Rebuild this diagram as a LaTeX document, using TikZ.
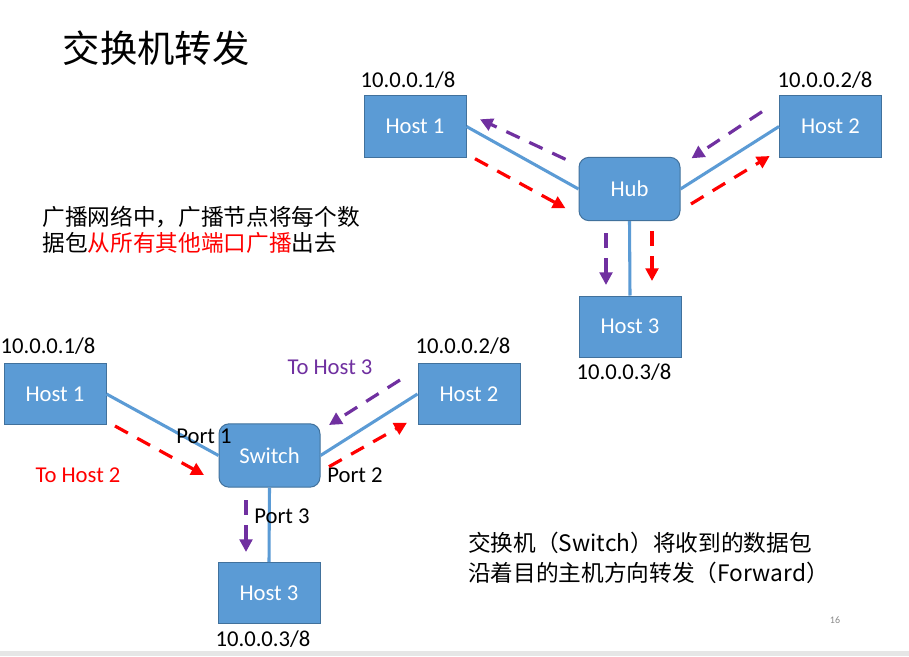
\documentclass[tikz,border=0pt]{standalone}
\usepackage{fontspec}
\setmainfont{Carlito}
\newfontfamily\cjk{Noto Sans CJK SC}
\usetikzlibrary{arrows.meta}
\definecolor{boxfill}{HTML}{5B9BD5}
\definecolor{boxedge}{HTML}{41719C}
\definecolor{linkc}{HTML}{5B9BD5}
\definecolor{pur}{HTML}{7030A0}
\definecolor{redc}{HTML}{FF0000}
\definecolor{bandc}{HTML}{E6E6E6}
\definecolor{pagenum}{HTML}{8C8C8C}
\begin{document}
\begin{tikzpicture}[x=0.75pt,y=-0.75pt,
  hostbox/.style={draw=boxedge, line width=0.75pt, fill=boxfill, minimum width=76.5pt, minimum height=45.75pt, inner sep=0pt, text=white, font=\fontsize{17}{20}\selectfont},
  hubbox/.style={hostbox, rounded corners=7.5pt, minimum width=75.75pt, minimum height=47.5pt},
  link/.style={draw=linkc, line width=2.3pt},
  flow/.style={line width=2.4pt, dash pattern=on 11pt off 8pt, -{Triangle[length=9.5pt,width=9.5pt]}},
  lbl/.style={font=\fontsize{17}{20}\selectfont, inner sep=0pt},
  cjktext/.style={font=\cjk\fontsize{17}{19.5}\selectfont, inner sep=0pt, align=left}]
\useasboundingbox (0,0) rectangle (909,656);
\fill[white] (0,0) rectangle (909,656);
\fill[bandc] (0,651) rectangle (909,656);

% title
\node[font=\cjk\fontsize{28}{32}\selectfont, inner sep=0pt] (title) at (156,48) {交换机转发};

% ---------- hub network ----------
\node[hostbox] (h1) at (415,126.5) {Host 1};
\node[hostbox] (h2) at (830.5,126.5) {Host 2};
\node[hubbox]  (hub) at (629.5,189) {Hub};
\node[hostbox] (h3) at (630,326.5) {Host 3};
\draw[link] (h1.east) -- (hub.west);
\draw[link] (h2.west) -- (hub.east);
\draw[link] (hub.south) -- (h3.north);
\node[lbl] (ip1) at (408,80) {10.0.0.1/8};
\node[lbl] (ip2) at (825,80) {10.0.0.2/8};
\node[lbl] (ip3) at (624,372) {10.0.0.3/8};

\coordinate (pa1s) at (565.5,159.3); \coordinate (pa1e) at (480,119.3);
\coordinate (ra1s) at (475,158.7);   \coordinate (ra1e) at (565.5,208.3);
\coordinate (pa2s) at (762,111.7);   \coordinate (pa2e) at (691.5,158.3);
\coordinate (ra2s) at (691,204);     \coordinate (ra2e) at (769.7,156);
\coordinate (pa3s) at (606,233);     \coordinate (pa3e) at (606,285);
\coordinate (ra3s) at (652,231);     \coordinate (ra3e) at (652,281);
\draw[flow,pur]  (pa1s) -- (pa1e);
\draw[flow,redc] (ra1s) -- (ra1e);
\draw[flow,pur]  (pa2s) -- (pa2e);
\draw[flow,redc] (ra2s) -- (ra2e);
\draw[flow,pur]  (pa3s) -- (pa3e);
\draw[flow,redc] (ra3s) -- (ra3e);

% broadcast text
\node[cjktext] (bcast) at (201,230) {广播网络中，广播节点将每个数\\据包\textcolor{redc}{从所有其他端口广播}出去};

% ---------- switch network ----------
\node[hostbox] (s1) at (55,394) {Host 1};
\node[hostbox] (s2) at (469,394) {Host 2};
\node[hubbox]  (sw) at (269.5,455.5) {Switch};
\node[hostbox] (s3) at (269,593) {Host 3};
\draw[link] (s1.east) -- (sw.west);
\draw[link] (s2.west) -- (sw.east);
\draw[link] (sw.south) -- (s3.north);
\node[lbl] (sip1) at (48,346) {10.0.0.1/8};
\node[lbl] (sip2) at (463,346) {10.0.0.2/8};
\node[lbl] (sip3) at (263,639) {10.0.0.3/8};
\node[lbl, text=pur]  (to3) at (330,367) {To Host 3};
\node[lbl, text=redc] (to2) at (78,475) {To Host 2};
\node[lbl] (p1) at (204,436) {Port 1};
\node[lbl] (p2) at (355,475) {Port 2};
\node[lbl] (p3) at (282,516) {Port 3};

\coordinate (rb1s) at (115,426);   \coordinate (rb1e) at (204,475);
\coordinate (pb2s) at (400,380);   \coordinate (pb2e) at (329,425);
\coordinate (rb2s) at (329,466.7); \coordinate (rb2e) at (407,422.7);
\coordinate (pb3s) at (246,500);   \coordinate (pb3e) at (246,552);
\draw[flow,redc] (rb1s) -- (rb1e);
\draw[flow,pur]  (pb2s) -- (pb2e);
\draw[flow,redc] (rb2s) -- (rb2e);
\draw[flow,pur]  (pb3s) -- (pb3e);

% forward text
\node[cjktext, font=\cjk\fontsize{17}{22.5}\selectfont, anchor=west] (fwd) at (468,558) {交换机（Switch）将收到的数据包\\沿着目的主机方向转发（Forward）};

\node[font=\fontsize{7.5}{9}\selectfont, text=pagenum, inner sep=0pt] (pg) at (835,620) {16};
\end{tikzpicture}
\end{document}
